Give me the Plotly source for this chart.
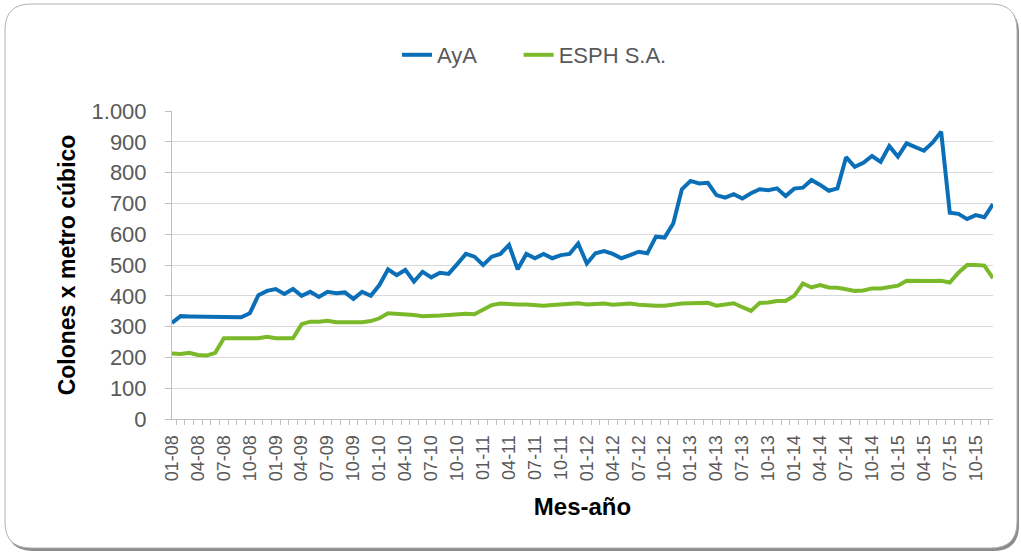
import plotly.graph_objects as go

years = ["08", "09", "10", "11", "12", "13", "14", "15"]
months = ["01", "02", "03", "04", "05", "06", "07", "08", "09", "10", "11", "12"]
categories = [f"{m}-{y}" for y in years for m in months]

aya = [312, 334, 333, 333, 330, 330, 330, 330, 330, 343, 402, 416,
       422, 406, 422, 400, 413, 396, 413, 408, 411, 390, 413, 400,
       435, 486, 467, 484, 446, 478, 460, 475, 471, 503, 536, 527,
       500, 527, 536, 565, 486, 536, 522, 536, 522, 532, 536, 570,
       505, 538, 545, 536, 522, 532, 543, 538, 592, 589, 635, 746,
       773, 765, 767, 727, 719, 730, 716, 733, 746, 743, 749, 724,
       748, 751, 776, 760, 741, 749, 850, 819, 832, 854, 835, 886,
       852, 895, 882, 871, 897, 933, 670, 666, 649, 662, 655, 698]

esph = [213, 211, 215, 208, 206, 215, 262, 262, 262, 264, 262, 267,
        262, 262, 262, 308, 316, 316, 319, 314, 314, 311, 314, 318,
        327, 343, 342, 340, 338, 334, 334, 336, 338, 340, 342, 340,
        356, 370, 375, 372, 372, 372, 370, 368, 370, 372, 375, 376,
        372, 372, 375, 371, 372, 375, 371, 368, 368, 368, 372, 375,
        376, 377, 377, 368, 372, 376, 363, 351, 377, 378, 383, 383,
        400, 440, 427, 435, 427, 426, 421, 416, 417, 424, 424, 427,
        433, 449, 448, 450, 448, 449, 443, 475, 500, 500, 498, 457]

series_names = ["AyA", "ESPH S.A."]
y_ticks = [0, 100, 200, 300, 400, 500, 600, 700, 800, 900, 1000]
x_ticktext = [c if i % 3 == 0 else "" for i, c in enumerate(categories)]

BLUE = "#0B6FB8"
GREEN = "#7AB92A"
GRAY_TXT = "#595959"
FONT = "Liberation Sans, Arial, sans-serif"
PAD = "\u00a0" * 6  # spacing between legend entries

fig = go.Figure()
fig.add_trace(go.Scatter(x=categories, y=aya, mode="lines", name=series_names[0] + PAD,
                         line=dict(color=BLUE, width=4)))
fig.add_trace(go.Scatter(x=categories, y=esph, mode="lines", name=series_names[1],
                         line=dict(color=GREEN, width=4)))

L, R, T, B = 172, 993, 111, 419
W, H = 1021, 552
pw, ph = R - L, B - T


def px(x):
    return (x - L) / pw


def py(y):
    return (B - y) / ph


def rounded(x0, y0, x1, y1, r):
    rx, ry = r / pw, r / ph
    a0, a1 = px(x0), px(x1)
    b0, b1 = py(y1), py(y0)  # bottom, top in paper
    return (f"M{a0 + rx},{b1} L{a1 - rx},{b1} Q{a1},{b1} {a1},{b1 - ry} "
            f"L{a1},{b0 + ry} Q{a1},{b0} {a1 - rx},{b0} "
            f"L{a0 + rx},{b0} Q{a0},{b0} {a0},{b0 + ry} "
            f"L{a0},{b1 - ry} Q{a0},{b1} {a0 + rx},{b1} Z")


shapes = [
    dict(type="path", xref="paper", yref="paper", layer="below",
         path=rounded(7, 7, 1019, 551, 26), fillcolor="#8c8c8c",
         line=dict(width=0)),
    dict(type="path", xref="paper", yref="paper", layer="below",
         path=rounded(5, 4, 1017, 548, 26), fillcolor="white",
         line=dict(color="#b0b0b0", width=1)),
]

fig.update_layout(
    width=W, height=H,
    margin=dict(l=L, r=W - R, t=T, b=H - B, autoexpand=False),
    paper_bgcolor="white", plot_bgcolor="white",
    font=dict(family=FONT, color=GRAY_TXT),
    separators=",.",
    shapes=shapes,
    showlegend=True,
    legend=dict(orientation="h", x=px(397), xanchor="left",
                y=py(55), yanchor="middle",
                font=dict(size=22, color=GRAY_TXT),
                itemwidth=30,
                bgcolor="rgba(0,0,0,0)",
                traceorder="normal"),
    xaxis=dict(
        type="category",
        tickmode="array", tickvals=categories, ticktext=x_ticktext,
        tickson="boundaries",
        tickangle=-90,
        ticks="outside", ticklen=5, tickcolor="#bfbfbf", tickwidth=1,
        showline=True, linecolor="#bfbfbf", linewidth=1,
        showgrid=False, zeroline=False,
        tickfont=dict(size=18, color=GRAY_TXT, family=FONT),
        ticklabelstandoff=8,
        automargin=False,
        title=dict(text="<b>Mes-año</b>", font=dict(size=24, color="black", family=FONT),
                   standoff=17),
    ),
    yaxis=dict(
        range=[0, 1000],
        tickmode="array", tickvals=y_ticks,
        tickformat=",d",
        ticks="outside", ticklen=6, tickcolor="#bfbfbf", tickwidth=1,
        showline=True, linecolor="#bfbfbf", linewidth=1,
        showgrid=True, gridcolor="#d9d9d9", gridwidth=1.3,
        zeroline=False,
        tickfont=dict(size=22, color=GRAY_TXT, family=FONT),
        ticklabelstandoff=14,
        automargin=False,
        title=dict(text="<b>Colones x metro cúbico</b>",
                   font=dict(size=23, color="black", family=FONT), standoff=9),
    ),
)

fig.write_html("out.html", config={"displayModeBar": False},
               post_script="document.body.style.margin='0';document.body.style.overflow='hidden';")
